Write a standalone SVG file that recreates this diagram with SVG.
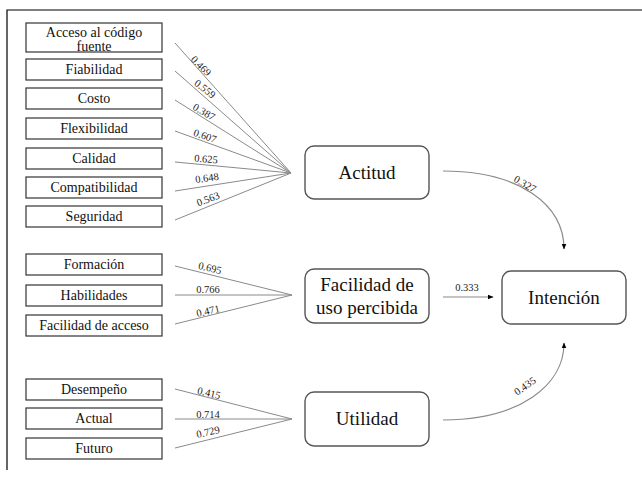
<svg xmlns="http://www.w3.org/2000/svg" width="642" height="477" viewBox="0 0 642 477">
<defs>
<marker id="ah" viewBox="0 0 10 10" refX="9" refY="5" markerWidth="6" markerHeight="6" orient="auto" markerUnits="userSpaceOnUse">
<path d="M0,1 L10,5 L0,9 z" fill="#000"/>
</marker>
<style>
text{font-family:'Liberation Serif','DejaVu Serif',serif}
.ind{fill:#fff;stroke:#333;stroke-width:1.2}
.lat{fill:#fff;stroke:#555;stroke-width:1.4}
.t{font-size:14px;fill:#111;text-anchor:middle}
.T{font-size:19px;fill:#111;text-anchor:middle}
.e{font-size:10.5px;fill:#222;text-anchor:middle}
.ln{stroke:#8a8a8a;stroke-width:1;fill:none}
.cv{stroke:#8a8a8a;stroke-width:1.2;fill:none}
</style>
</defs>
<rect width="642" height="477" fill="#fff"/>
<path d="M7,470 L7,10 L642,10" fill="none" stroke="#000" stroke-width="1.2"/>

<g id="connectors" font-family="Liberation Serif, DejaVu Serif, serif">
<line class="ln" x1="175" y1="43" x2="291" y2="173"/>
<line class="ln" x1="175" y1="71" x2="291" y2="173"/>
<line class="ln" x1="175" y1="100" x2="291" y2="173"/>
<line class="ln" x1="175" y1="131" x2="291" y2="173"/>
<line class="ln" x1="175" y1="162" x2="291" y2="173"/>
<line class="ln" x1="175" y1="191" x2="291" y2="173"/>
<line class="ln" x1="175" y1="220" x2="291" y2="173"/>
<line class="ln" x1="175" y1="266" x2="292" y2="295"/>
<line class="ln" x1="175" y1="295" x2="292" y2="295"/>
<line class="ln" x1="175" y1="324" x2="292" y2="295"/>
<line class="ln" x1="175" y1="389" x2="292" y2="419"/>
<line class="ln" x1="175" y1="419" x2="292" y2="419"/>
<line class="ln" x1="175" y1="448" x2="292" y2="419"/>
<path class="cv" d="M443,171 C520,171 564,205 564,249" marker-end="url(#ah)"/>
<path class="cv" d="M443,297 L493,297" marker-end="url(#ah)"/>
<path class="cv" d="M443,420 C520,420 564,385 564,343" marker-end="url(#ah)"/>
<g transform="translate(201,66) rotate(45)"><text class="e" y="3.5">0.469</text></g>
<g transform="translate(205,89) rotate(38)"><text class="e" y="3.5">0.559</text></g>
<g transform="translate(204,112) rotate(30)"><text class="e" y="3.5">0.387</text></g>
<g transform="translate(205,136) rotate(19)"><text class="e" y="3.5">0.607</text></g>
<g transform="translate(206,159) rotate(5)"><text class="e" y="3.5">0.625</text></g>
<g transform="translate(207,178) rotate(-8)"><text class="e" y="3.5">0.648</text></g>
<g transform="translate(208,199) rotate(-21)"><text class="e" y="3.5">0.563</text></g>
<g transform="translate(210,268) rotate(13)"><text class="e" y="3.5">0.695</text></g>
<g transform="translate(208,289)"><text class="e" y="3.5">0.766</text></g>
<g transform="translate(208,311) rotate(-13)"><text class="e" y="3.5">0.471</text></g>
<g transform="translate(209,393) rotate(13)"><text class="e" y="3.5">0.415</text></g>
<g transform="translate(208,414)"><text class="e" y="3.5">0.714</text></g>
<g transform="translate(208,432) rotate(-13)"><text class="e" y="3.5">0.729</text></g>
<g transform="translate(525,184) rotate(30)"><text class="e" y="3.5">0.327</text></g>
<g transform="translate(467,287)"><text class="e" y="3.5">0.333</text></g>
<g transform="translate(525,386) rotate(-35)"><text class="e" y="3.5">0.435</text></g>
</g>

<g id="n-acceso"><rect class="ind" x="26" y="23" width="136" height="29"/><text class="t" x="94" y="37">Acceso al código</text><text class="t" x="94" y="51">fuente</text></g>
<g id="n-fiabilidad"><rect class="ind" x="26" y="59" width="136" height="21"/><text class="t" x="94" y="74">Fiabilidad</text></g>
<g id="n-costo"><rect class="ind" x="26" y="88" width="136" height="21"/><text class="t" x="94" y="103">Costo</text></g>
<g id="n-flexibilidad"><rect class="ind" x="26" y="118" width="136" height="21"/><text class="t" x="94" y="133">Flexibilidad</text></g>
<g id="n-calidad"><rect class="ind" x="26" y="148" width="136" height="21"/><text class="t" x="94" y="163">Calidad</text></g>
<g id="n-compatibilidad"><rect class="ind" x="26" y="177" width="136" height="21"/><text class="t" x="94" y="192">Compatibilidad</text></g>
<g id="n-seguridad"><rect class="ind" x="26" y="206" width="136" height="21"/><text class="t" x="94" y="221">Seguridad</text></g>
<g id="n-formacion"><rect class="ind" x="26" y="254" width="136" height="21"/><text class="t" x="94" y="269">Formación</text></g>
<g id="n-habilidades"><rect class="ind" x="26" y="285" width="136" height="21"/><text class="t" x="94" y="300">Habilidades</text></g>
<g id="n-facacceso"><rect class="ind" x="26" y="315" width="136" height="21"/><text class="t" x="94" y="330">Facilidad de acceso</text></g>
<g id="n-desempeno"><rect class="ind" x="26" y="379" width="136" height="21"/><text class="t" x="94" y="394">Desempeño</text></g>
<g id="n-actual"><rect class="ind" x="26" y="408" width="136" height="21"/><text class="t" x="94" y="423">Actual</text></g>
<g id="n-futuro"><rect class="ind" x="26" y="438" width="136" height="21"/><text class="t" x="94" y="453">Futuro</text></g>

<g id="n-actitud"><rect class="lat" x="305" y="146" width="124" height="53" rx="9"/><text class="T" x="367" y="179">Actitud</text></g>
<g id="n-facilidad"><rect class="lat" x="305" y="269" width="124" height="54" rx="9"/><text class="T" x="367" y="291">Facilidad de</text><text class="T" x="367" y="314">uso percibida</text></g>
<g id="n-intencion"><rect class="lat" x="502" y="271" width="124" height="53" rx="9"/><text class="T" x="564" y="304">Intención</text></g>
<g id="n-utilidad"><rect class="lat" x="305" y="392" width="124" height="54" rx="9"/><text class="T" x="367" y="425">Utilidad</text></g>
</svg>
